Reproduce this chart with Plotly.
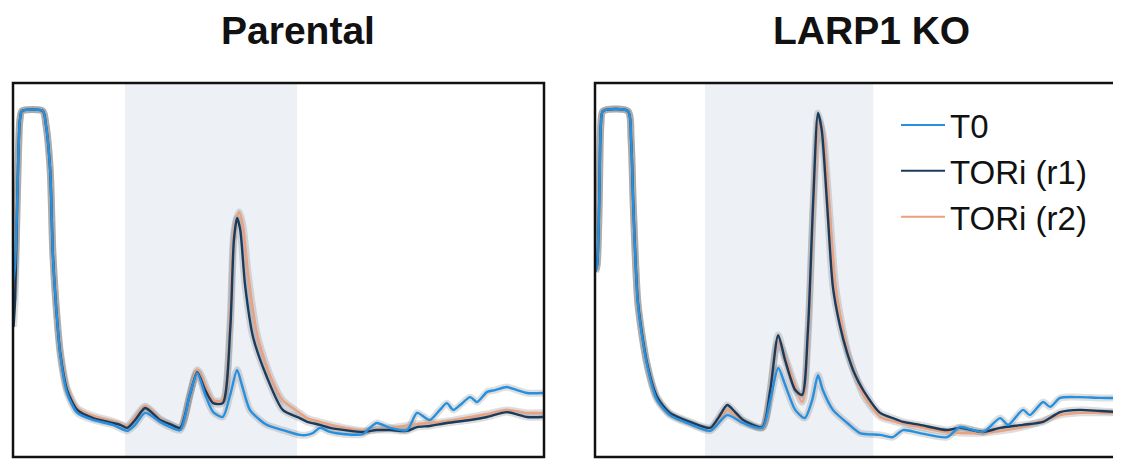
import plotly.graph_objects as go

# ---------------- data (gradient position %, relative A254) ----------------
par_t0_x = [0.1, 0.4, 0.8, 1.3, 1.7, 5.6, 6.2, 7.0, 7.5, 8.1, 8.9, 10.2, 12.1, 15.1, 18.8, 21.5, 23.0, 24.9,
            27.7, 29.6, 31.5, 33.3, 34.7, 36.2, 37.7, 39.5, 40.9, 42.2, 43.1, 44.6, 46.5, 47.8, 50.8, 54.0,
            55.4, 56.5, 57.8, 59.7, 62.5, 65.9, 67.2, 68.5, 71.0, 74.2, 76.1, 78.5, 80.4, 81.7, 82.9, 84.2,
            86.1, 87.4, 89.3, 90.8, 93.0, 94.9, 96.8, 99.8]
par_t0_y = [0.473, 0.513, 0.687, 0.901, 0.925, 0.925, 0.888, 0.767, 0.545, 0.406, 0.273, 0.171, 0.118, 0.099,
            0.086, 0.070, 0.086, 0.118, 0.094, 0.080, 0.072, 0.166, 0.225, 0.166, 0.120, 0.107, 0.166, 0.233,
            0.193, 0.126, 0.099, 0.086, 0.072, 0.059, 0.059, 0.064, 0.078, 0.067, 0.061, 0.061, 0.078, 0.091,
            0.078, 0.072, 0.118, 0.099, 0.126, 0.144, 0.126, 0.139, 0.160, 0.147, 0.174, 0.179, 0.187, 0.179,
            0.171, 0.171]

par_r1_x = [0.1, 0.4, 0.8, 1.3, 1.7, 5.6, 6.2, 7.0, 7.5, 8.1, 8.9, 10.2, 12.1, 15.1, 18.8, 20.2, 21.5, 23.0,
            24.9, 27.7, 29.6, 31.5, 33.3, 34.7, 36.2, 37.7, 39.5, 40.9, 41.6, 42.2, 42.8, 43.7, 45.2, 47.8,
            50.8, 54.0, 55.4, 57.8, 59.7, 62.5, 65.9, 68.5, 71.0, 74.2, 76.1, 78.5, 81.7, 86.1, 89.3, 93.0,
            96.8, 99.8]
par_r1_y = [0.348, 0.420, 0.687, 0.901, 0.925, 0.925, 0.888, 0.767, 0.545, 0.406, 0.278, 0.179, 0.126, 0.104,
            0.091, 0.086, 0.078, 0.099, 0.131, 0.099, 0.088, 0.078, 0.166, 0.227, 0.179, 0.144, 0.144, 0.340,
            0.580, 0.639, 0.607, 0.460, 0.321, 0.214, 0.126, 0.104, 0.094, 0.086, 0.078, 0.072, 0.067, 0.072,
            0.072, 0.070, 0.080, 0.083, 0.091, 0.099, 0.107, 0.120, 0.107, 0.107]

par_r2_x = [0.1, 0.4, 0.8, 1.3, 1.7, 5.6, 6.2, 7.0, 7.5, 8.1, 8.9, 10.2, 12.1, 15.1, 18.8, 21.5, 24.9, 27.7,
            31.5, 34.7, 37.7, 39.5, 40.9, 41.6, 42.6, 43.3, 44.3, 46.0, 48.4, 50.8, 54.0, 55.4, 57.8, 62.5,
            65.9, 71.0, 76.1, 81.7, 86.1, 89.3, 93.0, 96.8, 99.8]
par_r2_y = [0.420, 0.473, 0.687, 0.901, 0.925, 0.925, 0.890, 0.773, 0.553, 0.412, 0.286, 0.184, 0.131, 0.110,
            0.096, 0.083, 0.136, 0.102, 0.080, 0.233, 0.152, 0.152, 0.366, 0.602, 0.655, 0.620, 0.487, 0.326,
            0.219, 0.152, 0.118, 0.104, 0.094, 0.078, 0.070, 0.078, 0.088, 0.096, 0.107, 0.115, 0.126, 0.118,
            0.118]

ko_t0_x = [0.1, 0.4, 0.8, 1.1, 1.5, 6.2, 6.8, 7.2, 8.1, 9.8, 11.7, 14.1, 17.9, 21.7, 24.9, 27.9, 31.5, 33.0,
           34.5, 35.8, 37.7, 39.5, 40.9, 42.0, 42.9, 44.8, 47.5, 49.9, 53.7, 56.1, 58.0, 61.2, 66.3, 68.7,
           73.1, 76.3, 77.8, 80.6, 81.9, 84.4, 85.7, 87.6, 91.3, 95.1, 99.1]
ko_t0_y = [0.495, 0.513, 0.687, 0.888, 0.925, 0.925, 0.848, 0.674, 0.406, 0.246, 0.152, 0.112, 0.088, 0.070,
           0.112, 0.091, 0.078, 0.152, 0.238, 0.193, 0.126, 0.104, 0.152, 0.219, 0.179, 0.126, 0.091, 0.064,
           0.059, 0.053, 0.072, 0.064, 0.053, 0.080, 0.067, 0.104, 0.086, 0.126, 0.112, 0.147, 0.134, 0.158,
           0.160, 0.158, 0.158]

ko_r1_x = [0.1, 0.4, 0.8, 1.1, 1.5, 6.2, 6.8, 7.2, 8.1, 9.8, 11.7, 14.1, 17.9, 21.7, 23.2, 24.9, 26.4, 27.9,
           31.5, 33.0, 34.5, 35.8, 37.7, 39.0, 40.1, 41.1, 42.0, 42.7, 43.7, 44.8, 46.1, 47.5, 49.0, 50.5,
           53.7, 56.1, 58.0, 61.2, 66.3, 68.7, 73.1, 76.3, 80.6, 84.4, 87.6, 91.3, 95.1, 99.1]
ko_r1_y = [0.500, 0.513, 0.687, 0.888, 0.925, 0.925, 0.848, 0.679, 0.412, 0.251, 0.160, 0.118, 0.094, 0.078,
           0.104, 0.139, 0.120, 0.099, 0.080, 0.179, 0.326, 0.259, 0.179, 0.166, 0.340, 0.687, 0.920, 0.874,
           0.679, 0.455, 0.353, 0.278, 0.219, 0.179, 0.118, 0.104, 0.094, 0.086, 0.072, 0.078, 0.067, 0.078,
           0.086, 0.094, 0.120, 0.126, 0.123, 0.120]

ko_r2_x = [0.1, 0.4, 0.8, 1.1, 1.5, 6.2, 6.8, 7.2, 8.1, 9.8, 11.7, 14.1, 17.9, 21.7, 24.9, 27.9, 31.5, 34.5,
           39.0, 40.1, 41.1, 42.2, 43.1, 44.3, 45.4, 47.5, 49.0, 50.5, 53.7, 56.1, 61.2, 66.3, 73.1, 80.6,
           87.6, 91.3, 99.1]
ko_r2_y = [0.495, 0.513, 0.687, 0.888, 0.925, 0.925, 0.848, 0.674, 0.406, 0.246, 0.158, 0.115, 0.091, 0.075,
           0.126, 0.096, 0.078, 0.305, 0.147, 0.313, 0.660, 0.901, 0.848, 0.634, 0.447, 0.286, 0.219, 0.166,
           0.107, 0.096, 0.080, 0.067, 0.064, 0.080, 0.112, 0.118, 0.118]

panel_titles = ["Parental", "LARP1 KO"]
series_names = ["T0", "TORi (r1)", "TORi (r2)"]
polysome_band_parental = [21.1, 53.5]
polysome_band_ko = [20.7, 52.4]

# ---------------- styling ----------------
colors = {"T0": "#2590e0", "TORi (r1)": "#1a3b5c", "TORi (r2)": "#eba17f"}
FONT = "Liberation Sans, Arial, Helvetica, sans-serif"
# the page body has an 8px default margin, so the figure is sized to fill the rest of the window
W, H = 1113, 452
ml, mr, mt, mb = 5, 0, 75, 3
pw, ph = W - ml - mr, H - mt - mb
REF_L, REF_T = 13, 83  # plot-area origin in window pixels

fig = go.Figure()

panels = [
    ("x", "y", {"T0": (par_t0_x, par_t0_y), "TORi (r1)": (par_r1_x, par_r1_y), "TORi (r2)": (par_r2_x, par_r2_y)}),
    ("x2", "y2", {"T0": (ko_t0_x, ko_t0_y), "TORi (r1)": (ko_r1_x, ko_r1_y), "TORi (r2)": (ko_r2_x, ko_r2_y)}),
]
draw_order = ["TORi (r2)", "TORi (r1)", "T0"]
for xa, ya, data in panels:
    for name in draw_order:  # soft halo under the lines
        xs, ys = data[name]
        fig.add_trace(go.Scatter(x=xs, y=ys, xaxis=xa, yaxis=ya, mode="lines",
                                 line=dict(color="rgba(60,60,60,0.17)", width=7, shape="spline", smoothing=0.7),
                                 showlegend=False, hoverinfo="skip"))
    for name in draw_order:
        xs, ys = data[name]
        fig.add_trace(go.Scatter(x=xs, y=ys, xaxis=xa, yaxis=ya, mode="lines", name=name,
                                 line=dict(color=colors[name], width=2.4, shape="spline", smoothing=0.7),
                                 showlegend=False))

for name in series_names:  # legend entries
    fig.add_trace(go.Scatter(x=[None], y=[None], xaxis="x2", yaxis="y2", mode="lines", name=name,
                             line=dict(color=colors[name], width=2), showlegend=True))

left_dom = [0, 531 / pw]
right_dom = [(595 - REF_L) / pw, 1]
right_range = [0, (1121 - 595) / 5.31]

axis_common = dict(showgrid=False, zeroline=False, showticklabels=False, ticks="", showline=False)
fig.update_layout(
    width=W, height=H,
    margin=dict(l=ml, r=mr, t=mt, b=mb, autoexpand=False),
    plot_bgcolor="white", paper_bgcolor="white",
    xaxis=dict(domain=left_dom, range=[0, 100], **axis_common),
    yaxis=dict(domain=[0, 1], range=[0, 1], **axis_common),
    xaxis2=dict(domain=right_dom, range=right_range, anchor="y2", **axis_common),
    yaxis2=dict(domain=[0, 1], range=[0, 1], anchor="x2", **axis_common),
    legend=dict(x=(896 - REF_L) / pw, y=1 - (97 - REF_T) / ph, xref="paper", yref="paper",
                xanchor="left", yanchor="top", itemwidth=44,
                font=dict(family=FONT, size=33, color="#111"),
                bgcolor="rgba(0,0,0,0)", traceorder="normal"),
    font=dict(family=FONT),
)

shapes = []
for xr, yr, band in [("x", "y domain", polysome_band_parental), ("x2", "y2 domain", polysome_band_ko)]:
    shapes.append(dict(type="rect", xref=xr, yref=yr, x0=band[0], x1=band[1], y0=0, y1=1,
                       fillcolor="#edf0f5", line=dict(width=0), layer="below"))
shapes.append(dict(type="rect", xref="x domain", yref="y domain", x0=0, x1=1, y0=0, y1=1,
                   line=dict(color="#111", width=2.5), layer="above"))
shapes.append(dict(type="rect", xref="x2 domain", yref="y2 domain", x0=0, x1=1.03, y0=0, y1=1,
                   line=dict(color="#111", width=2.5), layer="above"))
fig.update_layout(shapes=shapes)

for title, cx in zip(panel_titles, [298, 871]):
    fig.add_annotation(text="<b>%s</b>" % title, x=(cx - REF_L) / pw, y=1 + (REF_T - 31) / ph,
                       xref="paper", yref="paper", xanchor="center", yanchor="middle", showarrow=False,
                       font=dict(family=FONT, size=39, color="#111"))

fig.write_html("out.html")
